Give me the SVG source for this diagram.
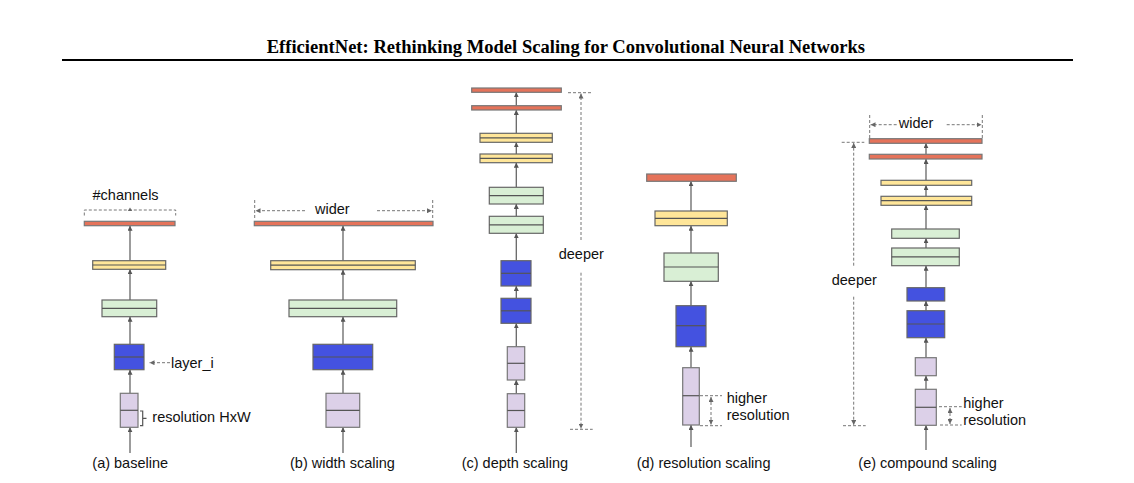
<svg xmlns="http://www.w3.org/2000/svg" width="1134" height="483" viewBox="0 0 1134 483">
<defs>
<style>
.r{fill:#E5735A;stroke:#777;stroke-width:1.2}
.y{fill:#FFE699;stroke:#666;stroke-width:1.2}
.g{fill:#D9EFD5;stroke:#666;stroke-width:1.2}
.b{fill:#4452E0;stroke:#666;stroke-width:1.2}
.p{fill:#DCD0E8;stroke:#777;stroke-width:1.2}
.m{stroke:#555;stroke-width:1.2;fill:none}
.c{stroke:#666;stroke-width:1.3;fill:none;marker-end:url(#ah)}
.d{stroke:#777;stroke-width:1;stroke-dasharray:3 2;fill:none}
.da{stroke:#777;stroke-width:1;stroke-dasharray:3 2;fill:none;marker-end:url(#dh)}
.dd{stroke:#777;stroke-width:1;stroke-dasharray:3 2;fill:none;marker-end:url(#dh);marker-start:url(#dh)}
.t{font-family:"Liberation Sans",Arial,sans-serif;font-size:14.5px;fill:#111}
.title{font-family:"Liberation Serif","Times New Roman",serif;font-weight:bold;font-size:18.6px;fill:#000}
</style>
<marker id="ah" viewBox="0 0 6 6" refX="6" refY="3" markerWidth="5" markerHeight="5" orient="auto" markerUnits="userSpaceOnUse"><path d="M0,0 L6,3 L0,6 z" fill="#555"/></marker>
<marker id="dh" viewBox="0 0 6 6" refX="6" refY="3" markerWidth="5" markerHeight="5" orient="auto-start-reverse" markerUnits="userSpaceOnUse"><path d="M0,0 L6,3 L0,6 z" fill="#666"/></marker>
</defs>
<rect width="1134" height="483" fill="#fff"/>
<text class="title" x="266.7" y="53" textLength="598.3" lengthAdjust="spacingAndGlyphs">EfficientNet: Rethinking Model Scaling for Convolutional Neural Networks</text>
<line x1="62" y1="60" x2="1073" y2="60" stroke="#000" stroke-width="1.8"/>

<g id="connectors">
<!-- (a) -->
<line class="c" x1="130" y1="453" x2="130" y2="427.3"/>
<line class="c" x1="130" y1="393.3" x2="130" y2="369.7"/>
<line class="c" x1="130" y1="344.3" x2="130" y2="316.7"/>
<line class="c" x1="130" y1="300" x2="130" y2="269.3"/>
<line class="c" x1="130" y1="260.7" x2="130" y2="225.7"/>
<!-- (b) -->
<line class="c" x1="343" y1="453" x2="343" y2="427.3"/>
<line class="c" x1="343" y1="393.3" x2="343" y2="369.7"/>
<line class="c" x1="343" y1="344.3" x2="343" y2="316.7"/>
<line class="c" x1="343" y1="300" x2="343" y2="269.7"/>
<line class="c" x1="343" y1="260.7" x2="343" y2="225.7"/>
<!-- (c) -->
<line class="c" x1="516.3" y1="453" x2="516.3" y2="427.3"/>
<line class="c" x1="516.3" y1="393.7" x2="516.3" y2="380"/>
<line class="c" x1="516.3" y1="346.7" x2="516.3" y2="323.3"/>
<line class="c" x1="516.3" y1="298.3" x2="516.3" y2="286"/>
<line class="c" x1="516.3" y1="260.7" x2="516.3" y2="233.3"/>
<line class="c" x1="516.3" y1="216.3" x2="516.3" y2="204"/>
<line class="c" x1="516.3" y1="187.3" x2="516.3" y2="162.7"/>
<line class="c" x1="516.3" y1="154" x2="516.3" y2="142.3"/>
<line class="c" x1="516.3" y1="133.3" x2="516.3" y2="110"/>
<line class="c" x1="516.3" y1="105.7" x2="516.3" y2="92.3"/>
<!-- (d) -->
<line class="c" x1="691" y1="447" x2="691" y2="425"/>
<line class="c" x1="691" y1="367.7" x2="691" y2="346.7"/>
<line class="c" x1="691" y1="305.7" x2="691" y2="281.3"/>
<line class="c" x1="691" y1="253" x2="691" y2="225.7"/>
<line class="c" x1="691" y1="211" x2="691" y2="181.3"/>
<!-- (e) -->
<line class="c" x1="926" y1="450" x2="926" y2="425.3"/>
<line class="c" x1="926" y1="389.3" x2="926" y2="375.7"/>
<line class="c" x1="926" y1="357.7" x2="926" y2="337.7"/>
<line class="c" x1="926" y1="310.7" x2="926" y2="301"/>
<line class="c" x1="926" y1="287.7" x2="926" y2="265.7"/>
<line class="c" x1="926" y1="248" x2="926" y2="238.3"/>
<line class="c" x1="926" y1="229" x2="926" y2="205.3"/>
<line class="c" x1="926" y1="196.3" x2="926" y2="185.3"/>
<line class="c" x1="926" y1="180.3" x2="926" y2="159"/>
<line class="c" x1="926" y1="154.3" x2="926" y2="143.3"/>
</g>

<!-- (a) baseline -->
<g id="a-red"><rect class="r" x="84.3" y="221.3" width="90.7" height="4.4"/></g>
<g id="a-yellow"><rect class="y" x="92.7" y="260.7" width="73" height="8.6"/><line class="m" x1="92.7" y1="265" x2="165.7" y2="265"/></g>
<g id="a-green"><rect class="g" x="102" y="300" width="54.7" height="16.7"/><line class="m" x1="102" y1="308.3" x2="156.7" y2="308.3"/></g>
<g id="a-blue"><rect class="b" x="114.3" y="344.3" width="29.7" height="25.4"/><line class="m" x1="114.3" y1="357" x2="144" y2="357"/></g>
<g id="a-purple"><rect class="p" x="120.3" y="393.3" width="17.7" height="34"/><line class="m" x1="120.3" y1="410.3" x2="138" y2="410.3"/></g>
<g id="a-annot">
<text class="t" x="92.5" y="200">#channels</text>
<path class="d" d="M84.3,215.5 V210 H175.7 V215.5"/>
<path d="M127.8,211 L130,207.5 L132.2,211 z" fill="#666"/>
<line class="da" x1="170" y1="362.7" x2="149.5" y2="362.7"/>
<text class="t" x="171" y="367.5">layer_i</text>
<path d="M140,411 H142.7 V425.7 H140 M142.7,418.3 H146.5" stroke="#555" stroke-width="1.2" fill="none"/>
<text class="t" x="152.3" y="421.5">resolution HxW</text>
<text class="t" x="92.3" y="467.5">(a) baseline</text>
</g>

<!-- (b) width scaling -->
<g id="b-red"><rect class="r" x="254.3" y="221.3" width="178.7" height="4.4"/></g>
<g id="b-yellow"><rect class="y" x="270.7" y="260.7" width="144.6" height="9"/><line class="m" x1="270.7" y1="265.2" x2="415.3" y2="265.2"/></g>
<g id="b-green"><rect class="g" x="289" y="300" width="107.7" height="16.7"/><line class="m" x1="289" y1="308.3" x2="396.7" y2="308.3"/></g>
<g id="b-blue"><rect class="b" x="313" y="344.3" width="59.7" height="25.4"/><line class="m" x1="313" y1="357" x2="372.7" y2="357"/></g>
<g id="b-purple"><rect class="p" x="326" y="393.3" width="33.7" height="34"/><line class="m" x1="326" y1="410.3" x2="359.7" y2="410.3"/></g>
<g id="b-annot">
<line class="d" x1="254.7" y1="200" x2="254.7" y2="220"/>
<line class="d" x1="432.7" y1="200" x2="432.7" y2="220"/>
<line class="da" x1="305" y1="210.7" x2="255.5" y2="210.7"/>
<line class="da" x1="377" y1="210.7" x2="432" y2="210.7"/>
<text class="t" x="315" y="214">wider</text>
<text class="t" x="290" y="467.5">(b) width scaling</text>
</g>

<!-- (c) depth scaling -->
<g id="c-red1"><rect class="r" x="471.7" y="88" width="89.6" height="4.3"/></g>
<g id="c-red2"><rect class="r" x="471.7" y="105.7" width="89.6" height="4.3"/></g>
<g id="c-yellow1"><rect class="y" x="480" y="133.3" width="72.3" height="9"/><line class="m" x1="480" y1="137.8" x2="552.3" y2="137.8"/></g>
<g id="c-yellow2"><rect class="y" x="480" y="154" width="72.3" height="8.7"/><line class="m" x1="480" y1="158.3" x2="552.3" y2="158.3"/></g>
<g id="c-green1"><rect class="g" x="489.3" y="187.3" width="54" height="16.7"/><line class="m" x1="489.3" y1="195.6" x2="543.3" y2="195.6"/></g>
<g id="c-green2"><rect class="g" x="489.3" y="216.3" width="54" height="17"/><line class="m" x1="489.3" y1="224.8" x2="543.3" y2="224.8"/></g>
<g id="c-blue1"><rect class="b" x="501" y="260.7" width="30" height="25.3"/><line class="m" x1="501" y1="273.3" x2="531" y2="273.3"/></g>
<g id="c-blue2"><rect class="b" x="501" y="298.3" width="30" height="25"/><line class="m" x1="501" y1="310.8" x2="531" y2="310.8"/></g>
<g id="c-purple1"><rect class="p" x="507.3" y="346.7" width="17.4" height="33.3"/><line class="m" x1="507.3" y1="363.3" x2="524.7" y2="363.3"/></g>
<g id="c-purple2"><rect class="p" x="507.3" y="393.7" width="17.4" height="33.6"/><line class="m" x1="507.3" y1="410.5" x2="524.7" y2="410.5"/></g>
<g id="c-annot">
<line class="d" x1="568" y1="92.7" x2="591" y2="92.7"/>
<line class="da" x1="581" y1="240" x2="581" y2="93.5"/>
<text class="t" x="558.7" y="258.5">deeper</text>
<line class="da" x1="581" y1="272.7" x2="581" y2="428.5"/>
<line class="d" x1="570" y1="429.3" x2="592.7" y2="429.3"/>
<text class="t" x="461.7" y="467.5">(c) depth scaling</text>
</g>

<!-- (d) resolution scaling -->
<g id="d-red"><rect class="r" x="646.7" y="174" width="89.6" height="7.3"/></g>
<g id="d-yellow"><rect class="y" x="655" y="211" width="72.3" height="14.7"/><line class="m" x1="655" y1="218.3" x2="727.3" y2="218.3"/></g>
<g id="d-green"><rect class="g" x="664" y="253" width="54.3" height="28.3"/><line class="m" x1="664" y1="267" x2="718.3" y2="267"/></g>
<g id="d-blue"><rect class="b" x="676" y="305.7" width="30" height="41"/><line class="m" x1="676" y1="325.7" x2="706" y2="325.7"/></g>
<g id="d-purple"><rect class="p" x="682.7" y="367.7" width="16.6" height="57.3"/><line class="m" x1="682.7" y1="395.7" x2="699.3" y2="395.7"/></g>
<g id="d-annot">
<line class="d" x1="700" y1="395.7" x2="722" y2="395.7"/>
<line class="d" x1="700" y1="425.7" x2="722" y2="425.7"/>
<line class="dd" x1="711" y1="397" x2="711" y2="424.5"/>
<text class="t" x="726.7" y="402.7">higher</text>
<text class="t" x="726.7" y="419.5">resolution</text>
<text class="t" x="636.7" y="467.5">(d) resolution scaling</text>
</g>

<!-- (e) compound scaling -->
<g id="e-red1"><rect class="r" x="869.3" y="138.7" width="112.7" height="4.6"/></g>
<g id="e-red2"><rect class="r" x="869.3" y="154.3" width="112.7" height="4.7"/></g>
<g id="e-yellow1"><rect class="y" x="881" y="180.3" width="90.7" height="5"/></g>
<g id="e-yellow2"><rect class="y" x="881" y="196.3" width="90.7" height="9"/><line class="m" x1="881" y1="200.7" x2="971.7" y2="200.7"/></g>
<g id="e-green1"><rect class="g" x="891.7" y="229" width="67.6" height="9.3"/></g>
<g id="e-green2"><rect class="g" x="891.7" y="248" width="67.6" height="17.7"/><line class="m" x1="891.7" y1="256.8" x2="959.3" y2="256.8"/></g>
<g id="e-blue1"><rect class="b" x="907" y="287.7" width="37.7" height="13.3"/></g>
<g id="e-blue2"><rect class="b" x="907" y="310.7" width="37.7" height="27"/><line class="m" x1="907" y1="324" x2="944.7" y2="324"/></g>
<g id="e-purple1"><rect class="p" x="915.3" y="357.7" width="21" height="18"/></g>
<g id="e-purple2"><rect class="p" x="915.3" y="389.3" width="21" height="36"/><line class="m" x1="915.3" y1="407.3" x2="936.3" y2="407.3"/></g>
<g id="e-annot">
<line class="d" x1="869.7" y1="115" x2="869.7" y2="138"/>
<line class="d" x1="982.3" y1="115" x2="982.3" y2="138"/>
<line class="da" x1="896.7" y1="124.7" x2="870.5" y2="124.7"/>
<line class="da" x1="946.7" y1="124.7" x2="981.5" y2="124.7"/>
<text class="t" x="898.7" y="128.3">wider</text>
<line class="d" x1="841.7" y1="142.3" x2="864.3" y2="142.3"/>
<line class="da" x1="853.7" y1="265.7" x2="853.7" y2="143"/>
<text class="t" x="831.7" y="285">deeper</text>
<line class="da" x1="853.7" y1="296.7" x2="853.7" y2="425"/>
<line class="d" x1="843" y1="425.7" x2="865.7" y2="425.7"/>
<line class="d" x1="939" y1="406.7" x2="961.7" y2="406.7"/>
<line class="d" x1="940" y1="425" x2="961.7" y2="425"/>
<line class="dd" x1="950" y1="408" x2="950" y2="424"/>
<text class="t" x="963.3" y="408">higher</text>
<text class="t" x="963.3" y="424.5">resolution</text>
<text class="t" x="858.3" y="467.5">(e) compound scaling</text>
</g>
</svg>
